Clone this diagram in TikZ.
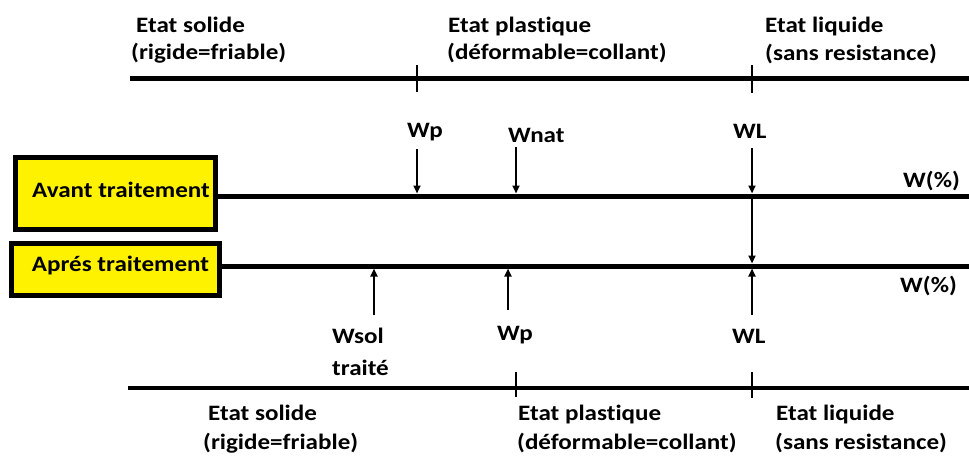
\documentclass[tikz,border=0pt]{standalone}
\usepackage{fontspec}
\setmainfont{Carlito}[FakeStretch=1.14,Ligatures={NoCommon}]
\usetikzlibrary{arrows.meta}
\begin{document}
\begin{tikzpicture}[x=1pt,y=-1pt,
  lbl/.style={anchor=base west,inner sep=0pt,font=\fontsize{22}{26}\selectfont\bfseries},
  clbl/.style={anchor=base,inner sep=0pt,font=\fontsize{22}{26}\selectfont\bfseries},
  axisline/.style={line width=5pt},
  tickmark/.style={line width=2.5pt},
  arr/.style={line width=2.2pt,-{Triangle[length=8pt,width=7pt]}},
  ybox/.style={draw=black,line width=5pt,fill=yellow,inner sep=0pt}
]
\useasboundingbox (0,0) rectangle (969,456);
% top scale
\coordinate (t1) at (130,78);
\coordinate (t2) at (969,78);
\draw[axisline] (t1) -- (t2);
\coordinate (tk1a) at (417,65); \coordinate (tk1b) at (417,92);
\coordinate (tk2a) at (752,65); \coordinate (tk2b) at (752,93);
\draw[tickmark] (tk1a) -- (tk1b);
\draw[tickmark] (tk2a) -- (tk2b);
\node[lbl] (s1a) at (136,32) {Etat solide};
\node[lbl] (s1b) at (131,59) {(rigide=friable)};
\node[lbl] (p1a) at (448,32) {Etat plastique};
\node[lbl] (p1b) at (447,59) {(déformable=collant)};
\node[lbl] (l1a) at (765,32) {Etat liquide};
\node[lbl] (l1b) at (765,60) {(sans resistance)};
% boxes
\node[ybox,minimum width=200pt,minimum height=72pt] (avant) at (115.5,193.5) {};
\node[clbl] (avantt) at (121,197) {Avant traitement};
\node[ybox,minimum width=208pt,minimum height=52pt] (apres) at (115.5,269.5) {};
\node[clbl] (aprest) at (120.5,271) {Aprés traitement};
% main lines
\coordinate (ae) at (969,196);
\coordinate (pe) at (969,266);
\draw[axisline] (avant.east |- ae) -- (ae);
\draw[axisline] (apres.east |- pe) -- (pe);
\node[lbl] (wpc1) at (903,187) {W(\%)};
\node[lbl] (wpc2) at (900,292) {W(\%)};
% upper labels and arrows
\node[lbl] (wp1) at (407,137) {Wp};
\node[lbl] (wnat) at (508,142) {Wnat};
\node[lbl] (wl1) at (733,138) {WL};
\coordinate (a1s) at (417,149); \coordinate (a1e) at (417,193.5);
\coordinate (a2s) at (516,147); \coordinate (a2e) at (516,193.5);
\coordinate (a3s) at (752,148); \coordinate (a3e) at (752,193.5);
\coordinate (a4s) at (752,198.5); \coordinate (a4e) at (752,263.5);
\draw[arr] (a1s) -- (a1e);
\draw[arr] (a2s) -- (a2e);
\draw[arr] (a3s) -- (a3e);
\draw[arr] (a4s) -- (a4e);
% lower arrows and labels
\coordinate (b1s) at (374,315); \coordinate (b1e) at (374,268.5);
\coordinate (b2s) at (508,310); \coordinate (b2e) at (508,268.5);
\coordinate (b3s) at (752,315); \coordinate (b3e) at (752,268.5);
\draw[arr] (b1s) -- (b1e);
\draw[arr] (b2s) -- (b2e);
\draw[arr] (b3s) -- (b3e);
\node[lbl] (wsol) at (332,343) {Wsol};
\node[lbl] (traite) at (332,375) {traité};
\node[lbl] (wp2) at (497,340) {Wp};
\node[lbl] (wl2) at (732,343) {WL};
% bottom scale
\coordinate (u1) at (128,388);
\coordinate (u2) at (969,388);
\draw[line width=4pt] (u1) -- (u2);
\coordinate (tk3a) at (516,372); \coordinate (tk3b) at (516,397);
\coordinate (tk4a) at (752,372); \coordinate (tk4b) at (752,398);
\draw[tickmark] (tk3a) -- (tk3b);
\draw[tickmark] (tk4a) -- (tk4b);
\node[lbl] (s2a) at (208,420) {Etat solide};
\node[lbl] (s2b) at (203,449) {(rigide=friable)};
\node[lbl] (p2a) at (518,420) {Etat plastique};
\node[lbl] (p2b) at (517,449) {(déformable=collant)};
\node[lbl] (l2a) at (776,420) {Etat liquide};
\node[lbl] (l2b) at (775,449) {(sans resistance)};
\end{tikzpicture}
\end{document}
